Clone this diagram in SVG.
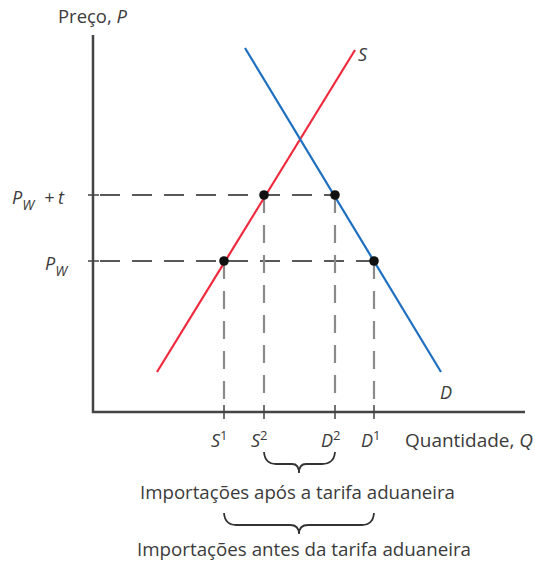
<svg xmlns="http://www.w3.org/2000/svg" width="535" height="565" viewBox="0 0 535 565">
<style>
text{font-family:"Open Sans","Liberation Sans",sans-serif;fill:#3b3b3b;font-size:18px}
.i{font-style:italic}
.ax{stroke:#444;stroke-width:2.5;fill:none}
.tick{stroke:#444;stroke-width:1.5}
.hd{stroke:#222;stroke-width:1.6;stroke-dasharray:20 12;fill:none}
.vd{stroke:#8a8a8a;stroke-width:2.2;stroke-dasharray:18 12;fill:none}
.br{stroke:#333;stroke-width:1.8;fill:none}
.dot{fill:#111}
</style>
<g id="axes">
<path class="ax" d="M93,35 V412 H525"/>
<path class="tick" d="M88,195 H99 M88,261 H99 M224,405 V419 M264,405 V419 M335,405 V419 M374,405 V419"/>
<text x="58" y="23" textLength="69" lengthAdjust="spacingAndGlyphs">Preço, <tspan class="i">P</tspan></text>
<text x="405" y="447" textLength="128" lengthAdjust="spacingAndGlyphs">Quantidade, <tspan class="i">Q</tspan></text>
</g>
<g id="connectors">
<path class="hd" d="M100,195 H335 M100,261 H374"/>
<path class="vd" d="M224,261 V405 M264,195 V405 M335,195 V405 M374,261 V405"/>
</g>
<g id="supply">
<line x1="157" y1="372" x2="355" y2="50" stroke="#f0283c" stroke-width="2.2"/>
<text x="358" y="61" class="i">S</text>
</g>
<g id="demand">
<line x1="245" y1="48" x2="441" y2="372" stroke="#1f6fc0" stroke-width="2.2"/>
<text x="440" y="399" class="i">D</text>
</g>
<g id="points">
<circle class="dot" cx="224" cy="261" r="4.8"/>
<circle class="dot" cx="264" cy="195" r="4.8"/>
<circle class="dot" cx="335" cy="195" r="4.8"/>
<circle class="dot" cx="374" cy="261" r="4.8"/>
</g>
<g id="price-labels">
<text x="12" y="204" class="i">P<tspan font-size="14" dy="6">W</tspan><tspan x="44" dy="-6">+</tspan><tspan x="58">t</tspan></text>
<text x="45" y="270" class="i">P<tspan font-size="14" dy="6">W</tspan></text>
</g>
<g id="qty-labels">
<text x="211" y="447" class="i">S<tspan font-size="13" dy="-7" font-style="normal">1</tspan></text>
<text x="251" y="447" class="i">S<tspan font-size="13" dy="-7" font-style="normal">2</tspan></text>
<text x="321" y="447" class="i">D<tspan font-size="13" dy="-7" font-style="normal">2</tspan></text>
<text x="361" y="447" class="i">D<tspan font-size="13" dy="-7" font-style="normal">1</tspan></text>
</g>
<g id="brace-after">
<path class="br" d="M264,452 Q265,464 276,464 H292 Q299,464 299,473 Q299,464 306,464 H322 Q334,464 335,452"/>
<text x="140" y="499" textLength="315" lengthAdjust="spacingAndGlyphs">Importações após a tarifa aduaneira</text>
</g>
<g id="brace-before">
<path class="br" d="M224,513 Q225,525 236,525 H290 Q299,525 299,534 Q299,525 308,525 H362 Q373,525 374,513"/>
<text x="137" y="556" textLength="334" lengthAdjust="spacingAndGlyphs">Importações antes da tarifa aduaneira</text>
</g>
</svg>
